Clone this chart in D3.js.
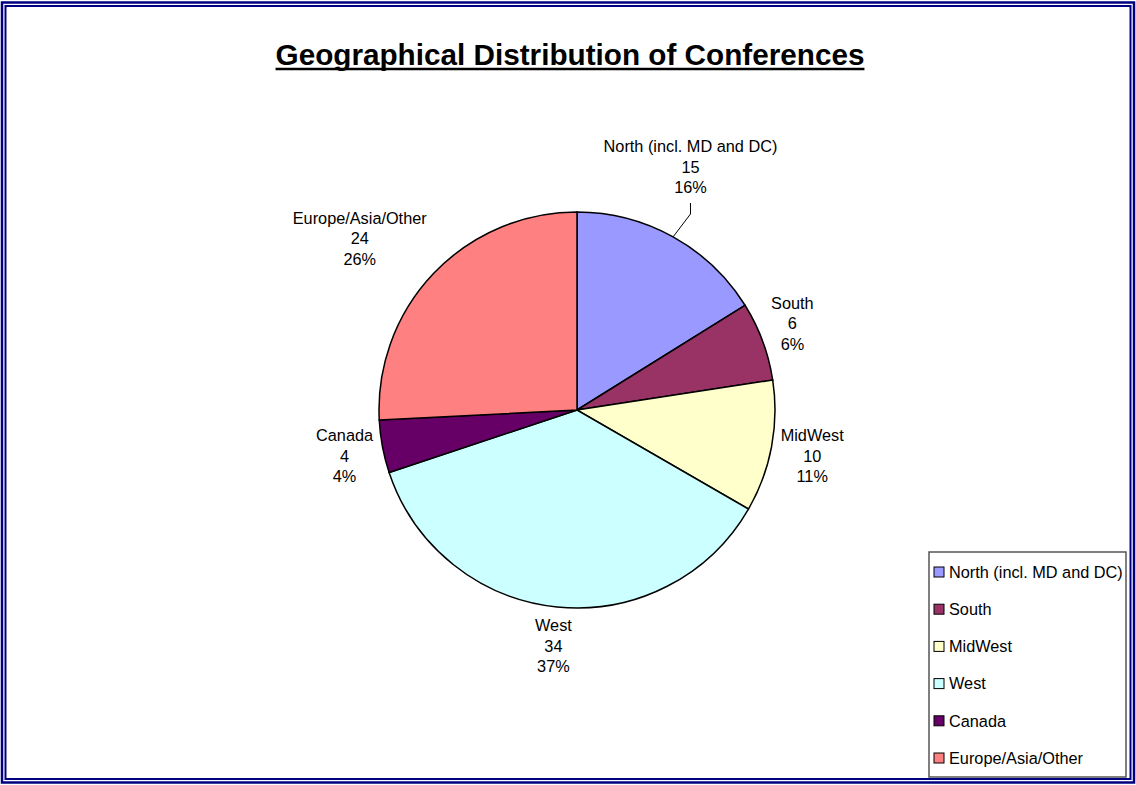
<!DOCTYPE html>
<html>
<head>
<meta charset="utf-8">
<script src="https://cdn.jsdelivr.net/npm/d3@7"></script>
<style>
  body { margin: 0; background: #fff; }
  svg { display: block; font-family: Arial, "Liberation Sans", sans-serif; }
  .slice { stroke: #000; stroke-width: 1.5; }
  .lbl { font-size: 16.3px; fill: #000; }
  .legend_txt { font-size: 16.3px; fill: #000; }
</style>
</head>
<body>
<svg id="chart" width="1136" height="785"></svg>
<script>
let categories = ["North (incl. MD and DC)", "South", "MidWest", "West", "Canada", "Europe/Asia/Other"];
let counts = [15, 6, 10, 34, 4, 24];
let colors = ["#9999FF", "#993366", "#FFFFCC", "#CCFFFF", "#660066", "#FF8080"];
let title = "Geographical Distribution of Conferences";

let svg = d3.select("#chart"),
    width = +svg.attr("width"),
    height = +svg.attr("height");

let cx = 577, cy = 410, radius = 198;
let total = d3.sum(counts);

// double navy frame
svg.append("rect")
    .attr("x", 2).attr("y", 2.5)
    .attr("width", width - 4).attr("height", height - 5)
    .attr("fill", "none").attr("stroke", "#000080").attr("stroke-width", 2.5);
svg.append("rect")
    .attr("x", 5.5).attr("y", 6)
    .attr("width", width - 11).attr("height", height - 12)
    .attr("fill", "none").attr("stroke", "#000080").attr("stroke-width", 2);

// title, underline drawn by hand so it is as heavy as the original
let t = svg.append("text")
    .attr("x", 570)
    .attr("y", 65)
    .attr("text-anchor", "middle")
    .style("font-size", "29.7px")
    .style("font-weight", "bold")
    .text(title);
let tb = t.node().getBBox();
svg.append("line")
    .attr("x1", tb.x).attr("x2", tb.x + tb.width)
    .attr("y1", 69).attr("y2", 69)
    .attr("stroke", "#000").attr("stroke-width", 2.5);

let pie = d3.pie().sort(null).value(d => d);
let arcs = pie(counts);
let arc = d3.arc().innerRadius(0).outerRadius(radius);

let g = svg.append("g").attr("transform", `translate(${cx},${cy})`);

g.selectAll(".slice")
    .data(arcs)
    .enter()
    .append("path")
    .attr("class", "slice")
    .attr("d", arc)
    .attr("fill", (d, i) => colors[i]);

// labels outside the pie
let labelRadius = 207, lineGap = 20.5, halfH = 30;
// the north label was dragged away from its default place, with a leader line
let movedLabel = {0: [-46, -32]};

arcs.forEach((d, i) => {
    let a = (d.startAngle + d.endAngle) / 2;
    let s = Math.sin(a), c = Math.cos(a);
    let lines = [categories[i], counts[i], Math.round(counts[i] / total * 100) + "%"];

    let lbl = g.append("text").attr("class", "lbl").attr("text-anchor", "middle");
    lines.forEach((txt, k) => {
        lbl.append("tspan").attr("x", 0).attr("y", (k - 1) * lineGap + 5.8).text(txt);
    });
    let halfW = lbl.node().getBBox().width / 2;
    let clamp = v => Math.max(-1, Math.min(1, v));
    let lx = labelRadius * s + halfW * clamp(1.4 * s);
    let ly = -labelRadius * c - halfH * clamp(1.4 * c);
    if (movedLabel[i]) {
        lx += movedLabel[i][0];
        ly += movedLabel[i][1];
        let ex = radius * s, ey = -radius * c;
        g.append("path")
            .attr("d", d3.line()([[lx, ly + halfH + 6], [lx, ly + halfH + 17], [ex, ey]]))
            .attr("fill", "none").attr("stroke", "#000").attr("stroke-width", 1);
    }
    lbl.attr("transform", `translate(${lx},${ly})`);
});

// legend
let legend = svg.append("g").attr("transform", "translate(929,552)");
legend.append("rect")
    .attr("width", 197).attr("height", 225)
    .attr("fill", "#fff").attr("stroke", "#555").attr("stroke-width", 1.5);

let rowY = d3.scalePoint().domain(categories).range([20, 206]);

let items = legend.selectAll(".item")
    .data(categories)
    .enter()
    .append("g")
    .attr("class", "item")
    .attr("transform", d => `translate(0,${rowY(d)})`);

items.append("rect")
    .attr("x", 5).attr("y", -5)
    .attr("width", 10).attr("height", 10)
    .attr("fill", (d, i) => colors[i])
    .attr("stroke", "#000").attr("stroke-width", 1);

items.append("text")
    .attr("class", "legend_txt")
    .attr("x", 20)
    .attr("y", 5.8)
    .text(d => d);
</script>
</body>
</html>
